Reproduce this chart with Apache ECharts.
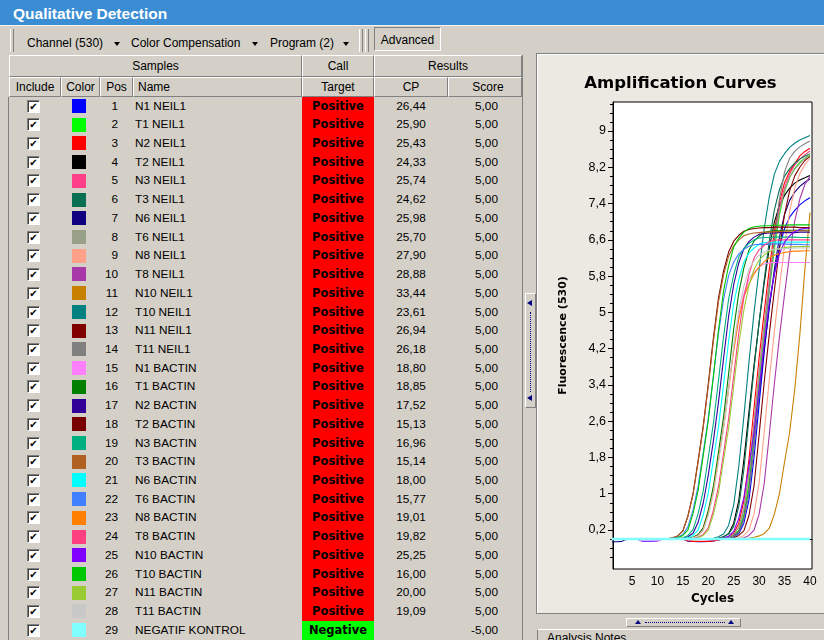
<!DOCTYPE html>
<html>
<head>
<meta charset="utf-8">
<title>Qualitative Detection</title>
<script src="https://cdn.jsdelivr.net/npm/echarts@6.0.0/dist/echarts.min.js"></script>
<style>
  html, body { margin: 0; padding: 0; }
  body { width: 824px; height: 640px; overflow: hidden; position: relative; background: #d4d0c8;
         font-family: "Liberation Sans", Arial, sans-serif; color: #000; }
  .a { position: absolute; box-sizing: border-box; }
  #titlebar { left: 0; top: 0; width: 824px; height: 25px; background: #3a8dd3; color: #fff;
              font: bold 15.5px "Liberation Sans", Arial, sans-serif; line-height: 27px; padding-left: 13px; }
  #toolbar { left: 0; top: 25px; width: 824px; height: 29px; border-top: 1px solid #f4f3ee; }
  .grip { top: 3px; width: 4px; height: 23px; border-left: 1px solid #fff; border-right: 1px solid #808080; }
  .tb { top: 9px; height: 16px; line-height: 16px; font-size: 12px; white-space: nowrap; }
  .dd { top: 16px; width: 0; height: 0; border-left: 3px solid transparent; border-right: 3px solid transparent; border-top: 4px solid #000; }
  #advanced { left: 374px; top: 1px; width: 67px; height: 24px; border: 1px solid; border-color: #808080 #fff #fff #808080;
              font-size: 12px; line-height: 24px; text-align: center; }
  .hc { border-top: 1px solid #fff; border-left: 1px solid #fff; border-right: 1px solid #808080; border-bottom: 1px solid #808080;
        font-size: 12px; text-align: center; white-space: nowrap; background: #d4d0c8; }
  .h1 { top: 55px; height: 22px; line-height: 20px; }
  .h2 { top: 77px; height: 20px; line-height: 18px; }
  .row { left: 0; width: 522px; height: 18.72px; line-height: 18.72px; font-size: 11.8px; white-space: nowrap; }
  .row span { position: absolute; top: 0; }
  .row span.chk { left: 27px; top: 3px; width: 13px; height: 13px; box-sizing: border-box; background: #fff;
         border: 1px solid; border-color: #808080 #fff #fff #808080; box-shadow: inset 1px 1px 0 #404040;
         font: bold 10px "DejaVu Sans", sans-serif; line-height: 11px; text-align: center; }
  .row span.sw { left: 72px; top: 2.4px; width: 14px; height: 14px; }
  .pos { left: 90px; width: 28px; text-align: right; }
  .nm { left: 135px; }
  .call { left: 302px; width: 72px; height: 19.2px; text-align: center; font: bold 11.5px "DejaVu Sans", sans-serif; line-height: 18.72px; }
  .cp { left: 374px; width: 74px; text-align: center; }
  .sc { left: 440px; width: 58px; text-align: right; }
  #panel { left: 536px; top: 53px; width: 288px; height: 561px; background: #ece9e2;
           border-left: 1px solid #808080; border-top: 1px solid #808080; border-bottom: 1px solid #808080;
           box-shadow: inset 1px 1px 0 #fff; }
  #chart { left: 537px; top: 54px; width: 287px; height: 559px; }
</style>
</head>
<body>
<div id="titlebar" class="a">Qualitative Detection</div>
<div id="toolbar" class="a">
  <div class="a grip" style="left:10px"></div>
  <span class="a tb" style="left:27px">Channel (530)</span>
  <div class="a dd" style="left:114px"></div>
  <span class="a tb" style="left:131px">Color Compensation</span>
  <div class="a dd" style="left:252px"></div>
  <span class="a tb" style="left:270px">Program (2)</span>
  <div class="a dd" style="left:343px"></div>
  <div class="a grip" style="left:359px"></div>
  <div class="a grip" style="left:365px"></div>
  <div id="advanced" class="a">Advanced</div>
</div>

<!-- table header -->
<div class="a hc h1" style="left:9px;width:293px">Samples</div>
<div class="a hc h1" style="left:302px;width:72px">Call</div>
<div class="a hc h1" style="left:374px;width:148px">Results</div>
<div class="a hc h2" style="left:9px;width:52px">Include</div>
<div class="a hc h2" style="left:61px;width:39px">Color</div>
<div class="a hc h2" style="left:100px;width:33px">Pos</div>
<div class="a hc h2" style="left:133px;width:169px;text-align:left;padding-left:4px">Name</div>
<div class="a hc h2" style="left:302px;width:72px">Target</div>
<div class="a hc h2" style="left:374px;width:74px">CP</div>
<div class="a hc h2" style="left:448px;width:74px;padding-left:6px">Score</div>
<div class="a" style="left:8px;top:97px;width:1px;height:543px;background:#808080"></div>
<div class="a" style="left:522px;top:55px;width:1px;height:585px;background:#808080"></div>
<div id="rows"></div>

<!-- splitters -->
<div class="a" style="left:525px;top:293px;width:11px;height:115px;border:1px solid;border-color:#fff #808080 #808080 #fff"></div>
<div class="a" style="left:527px;top:300px;width:0;height:0;border-top:3px solid transparent;border-bottom:3px solid transparent;border-right:5px solid #000080"></div>
<div class="a" style="left:530px;top:312px;width:1px;height:80px;border-left:1px dotted #000080"></div>
<div class="a" style="left:527px;top:395px;width:0;height:0;border-top:3px solid transparent;border-bottom:3px solid transparent;border-right:5px solid #000080"></div>

<div id="panel" class="a"></div>
<div id="chart" class="a"></div>

<div class="a" style="left:626px;top:618px;width:115px;height:9px;border:1px solid;border-color:#fff #808080 #808080 #fff"></div>
<div class="a" style="left:635px;top:620px;width:0;height:0;border-left:3px solid transparent;border-right:3px solid transparent;border-bottom:4px solid #000080"></div>
<div class="a" style="left:645px;top:622px;width:80px;height:1px;border-top:1px dotted #000080"></div>
<div class="a" style="left:728px;top:620px;width:0;height:0;border-left:3px solid transparent;border-right:3px solid transparent;border-bottom:4px solid #000080"></div>
<div class="a" style="left:537px;top:629px;width:287px;height:11px;border-top:1px solid #fff;border-left:1px solid #808080"></div>
<div class="a" style="left:547px;top:631px;font-size:12px;line-height:14px;white-space:nowrap">Analysis Notes</div>

<script>
// ---- sample table ----
var samplePos = [1, 2, 3, 4, 5, 6, 7, 8, 9, 10, 11, 12, 13, 14, 15, 16, 17, 18, 19, 20, 21, 22, 23, 24, 25, 26, 27, 28, 29];
var sampleNames = ['N1 NEIL1', 'T1 NEIL1', 'N2 NEIL1', 'T2 NEIL1', 'N3 NEIL1', 'T3 NEIL1', 'N6 NEIL1', 'T6 NEIL1',
    'N8 NEIL1', 'T8 NEIL1', 'N10 NEIL1', 'T10 NEIL1', 'N11 NEIL1', 'T11 NEIL1',
    'N1 BACTIN', 'T1 BACTIN', 'N2 BACTIN', 'T2 BACTIN', 'N3 BACTIN', 'T3 BACTIN', 'N6 BACTIN', 'T6 BACTIN',
    'N8 BACTIN', 'T8 BACTIN', 'N10 BACTIN', 'T10 BACTIN', 'N11 BACTIN', 'T11 BACTIN', 'NEGATIF KONTROL'];
var sampleColors = ['#0000ff', '#00ff00', '#ff0000', '#000000', '#ff4088', '#087050', '#100080', '#98a088',
    '#ffa088', '#a838a8', '#c88000', '#008080', '#800000', '#808080',
    '#ff80ff', '#008000', '#300098', '#780000', '#00b080', '#b06020', '#00ffff', '#4080ff',
    '#ff8000', '#ff4080', '#8000ff', '#00c800', '#99cc33', '#c8c8c8', '#80ffff'];
var sampleCalls = ['Positive', 'Positive', 'Positive', 'Positive', 'Positive', 'Positive', 'Positive', 'Positive',
    'Positive', 'Positive', 'Positive', 'Positive', 'Positive', 'Positive',
    'Positive', 'Positive', 'Positive', 'Positive', 'Positive', 'Positive', 'Positive', 'Positive',
    'Positive', 'Positive', 'Positive', 'Positive', 'Positive', 'Positive', 'Negative'];
var sampleCP = [26.44, 25.90, 25.43, 24.33, 25.74, 24.62, 25.98, 25.70, 27.90, 28.88, 33.44, 23.61, 26.94, 26.18,
    18.80, 18.85, 17.52, 15.13, 16.96, 15.14, 18.00, 15.77, 19.01, 19.82, 25.25, 16.00, 20.00, 19.09, null];
var sampleScores = [5, 5, 5, 5, 5, 5, 5, 5, 5, 5, 5, 5, 5, 5, 5, 5, 5, 5, 5, 5, 5, 5, 5, 5, 5, 5, 5, 5, -5];

// ---- amplification curves (fluorescence 530 per cycle) ----
var cycles = [1, 2, 3, 4, 5, 6, 7, 8, 9, 10, 11, 12, 13, 14, 15, 16, 17, 18, 19, 20,
    21, 22, 23, 24, 25, 26, 27, 28, 29, 30, 31, 32, 33, 34, 35, 36, 37, 38, 39, 40];
var fluo01 = [0, 0, 0, 0, 0, 0, -0.05, -0.05, -0.05, -0.04, 0, 0, 0, 0, 0, -0.05, -0.05, -0.06, -0.06, -0.05,
    -0.04, -0.02, 0, 0.02, 0.05, 0.12, 0.35, 0.86, 1.8, 2.97, 4.12, 5.16, 5.85, 6.45, 6.85, 7.1, 7.25, 7.37, 7.46, 7.53];
var fluo02 = [0, 0, 0, 0, 0, 0, 0, 0, 0, 0, 0, 0, 0, 0, 0, 0, 0, 0, 0, 0,
    0, 0, 0.02, 0.04, 0.09, 0.19, 0.55, 1.23, 2.34, 3.48, 4.54, 5.5, 6.4, 7.15, 7.66, 7.98, 8.17, 8.31, 8.4, 8.47];
var fluo03 = [0, 0, 0, 0, 0, 0, 0, 0, 0, 0, 0, 0, 0, 0, 0, -0.04, -0.05, -0.05, -0.05, -0.05,
    -0.04, -0.02, 0.02, 0.05, 0.13, 0.35, 0.84, 1.76, 2.89, 4.0, 5.01, 5.96, 6.79, 7.43, 7.86, 8.11, 8.28, 8.45, 8.55, 8.62];
var fluo04 = [0, 0, 0, 0, 0, 0, 0, 0, 0, 0, 0, 0, 0, 0, 0, 0, 0, 0, 0, 0,
    0, 0.02, 0.05, 0.12, 0.35, 0.85, 1.74, 2.8, 3.84, 4.77, 5.65, 6.42, 6.99, 7.36, 7.58, 7.74, 7.85, 7.92, 7.97, 8.02];
var fluo05 = [0, 0, 0, 0, 0, 0, 0, 0, 0, 0, 0, 0, 0, 0, 0, 0, 0, 0, 0, 0,
    0, 0, 0.02, 0.04, 0.1, 0.26, 0.66, 1.43, 2.55, 3.7, 4.75, 5.7, 6.6, 7.3, 7.75, 8.05, 8.25, 8.38, 8.48, 8.56];
var fluo06 = [0, 0, 0, 0, 0, 0, 0, 0, 0, 0, 0, 0, 0, 0, 0, 0, 0, 0, 0, 0,
    0, 0.02, 0.05, 0.11, 0.28, 0.72, 1.53, 2.65, 3.76, 4.78, 5.72, 6.58, 7.26, 7.71, 8.0, 8.17, 8.29, 8.38, 8.45, 8.5];
var fluo07 = [-0.06, -0.06, -0.05, 0, 0, 0, 0, 0, 0, 0, 0, 0, 0, 0, 0, 0, 0, 0, 0, 0,
    0, 0, 0, 0.03, 0.07, 0.16, 0.46, 1.06, 2.1, 3.19, 4.18, 5.09, 5.95, 6.66, 7.16, 7.47, 7.65, 7.78, 7.87, 7.94];
var fluo08 = [0, 0, 0, 0, 0, 0, 0, 0, 0, 0, 0, 0, 0, 0, 0, 0, 0, 0, 0, 0,
    0, 0, 0.02, 0.04, 0.1, 0.26, 0.67, 1.44, 2.55, 3.68, 4.7, 5.65, 6.52, 7.22, 7.68, 7.98, 8.16, 8.28, 8.4, 8.5];
var fluo09 = [0, 0, 0, 0, 0, 0, 0, 0, 0, 0, 0, 0, 0, 0, 0, 0, 0, 0, 0, 0,
    0, 0, 0, 0, 0, 0.03, 0.08, 0.2, 0.56, 1.24, 2.36, 3.52, 4.58, 5.56, 6.46, 7.22, 7.74, 8.06, 8.26, 8.4];
var fluo10 = [0, 0, 0, 0, 0, 0, 0, 0, 0, 0, 0, 0, 0, 0, 0, 0, 0, 0, 0, 0,
    0, 0, 0, 0, 0, 0, 0.03, 0.08, 0.2, 0.55, 1.22, 2.3, 3.43, 4.46, 5.4, 6.28, 7.01, 7.5, 7.82, 8.0];
var fluo11 = [0, 0, 0, 0, 0, 0, 0, 0, 0, 0, 0, 0, 0, 0, 0, 0, 0, 0, 0, 0,
    0, 0, 0, 0, 0, 0, 0, 0.02, 0.04, 0.07, 0.12, 0.24, 0.55, 1.0, 1.7, 2.35, 3.3, 4.5, 5.95, 7.2];
var fluo12 = [0, 0, 0, 0, 0, 0, 0, 0, 0, 0, 0, 0, 0, 0, 0, 0, 0, 0, 0, 0,
    0.02, 0.05, 0.11, 0.3, 0.75, 1.6, 2.7, 3.9, 5.0, 5.95, 6.85, 7.55, 8.05, 8.33, 8.5, 8.64, 8.73, 8.8, 8.85, 8.9];
var fluo13 = [0, 0, 0, 0, 0, 0, 0, 0, 0, 0, 0, 0, 0, 0, 0, 0, 0, 0, 0, 0,
    0, 0, 0, 0, 0.03, 0.08, 0.18, 0.52, 1.18, 2.3, 3.46, 4.52, 5.49, 6.4, 7.16, 7.68, 8.01, 8.2, 8.35, 8.44];
var fluo14 = [0, 0, 0, 0, 0, 0, 0, 0, 0, 0, 0, 0, 0, 0, 0, 0, 0, 0, 0, 0,
    0, 0, 0, 0.03, 0.06, 0.15, 0.44, 1.03, 2.09, 3.28, 4.4, 5.5, 6.6, 7.5, 8.1, 8.4, 8.55, 8.65, 8.72, 8.78];
var fluo15 = [0, 0, 0, 0, 0, 0, -0.04, -0.04, -0.04, -0.04, 0, 0, 0, 0, 0, 0.015, 0.04, 0.1, 0.24, 0.59,
    1.08, 1.76, 2.48, 3.34, 4.22, 4.94, 5.41, 5.73, 5.89, 6.0, 6.07, 6.09, 6.1, 6.1, 6.1, 6.1, 6.1, 6.1, 6.1, 6.1];
var fluo16 = [0, 0, 0, 0, 0, 0, 0, 0, 0, 0, 0, 0, 0, 0, 0, 0.015, 0.04, 0.1, 0.25, 0.63,
    1.16, 1.91, 2.69, 3.65, 4.63, 5.43, 5.98, 6.37, 6.57, 6.68, 6.76, 6.79, 6.8, 6.8, 6.81, 6.81, 6.81, 6.81, 6.81, 6.81];
var fluo17 = [0, 0, 0, 0, 0, 0, 0, 0, 0, 0, 0, 0, 0, 0, 0.02, 0.05, 0.13, 0.37, 0.79, 1.41,
    2.16, 3.01, 3.98, 4.91, 5.61, 6.09, 6.4, 6.56, 6.66, 6.72, 6.74, 6.75, 6.75, 6.76, 6.76, 6.76, 6.76, 6.77, 6.77, 6.77];
var fluo18 = [0, 0, 0, 0, 0, 0, 0, 0, 0, 0, 0, 0, 0.03, 0.07, 0.18, 0.51, 1.0, 1.73, 2.49, 3.42,
    4.43, 5.31, 5.91, 6.33, 6.57, 6.7, 6.79, 6.83, 6.85, 6.86, 6.87, 6.87, 6.88, 6.88, 6.88, 6.88, 6.88, 6.87, 6.87, 6.87];
var fluo19 = [0, 0, 0, 0, 0, 0, 0, 0, 0, 0, 0, 0, 0, 0.01, 0.03, 0.08, 0.21, 0.56, 1.06, 1.8,
    2.55, 3.49, 4.46, 5.29, 5.83, 6.22, 6.41, 6.52, 6.6, 6.64, 6.65, 6.65, 6.66, 6.66, 6.66, 6.66, 6.66, 6.65, 6.65, 6.65];
var fluo20 = [0, 0, 0, 0, 0, 0, 0, 0, 0, 0, 0, 0.01, 0.03, 0.07, 0.18, 0.5, 0.98, 1.7, 2.45, 3.37,
    4.36, 5.23, 5.82, 6.24, 6.47, 6.6, 6.69, 6.73, 6.75, 6.76, 6.77, 6.77, 6.78, 6.78, 6.79, 6.79, 6.8, 6.8, 6.8, 6.8];
var fluo21 = [0, 0, 0, 0, 0, 0, 0, 0, 0, 0, 0, 0, 0, 0, 0.01, 0.03, 0.08, 0.2, 0.53, 1.02,
    1.75, 2.47, 3.4, 4.37, 5.19, 5.72, 6.11, 6.31, 6.42, 6.5, 6.54, 6.55, 6.55, 6.55, 6.55, 6.55, 6.55, 6.55, 6.55, 6.55];
var fluo22 = [0, 0, 0, 0, 0, 0, 0, 0, 0, 0, 0, 0, 0.015, 0.04, 0.1, 0.27, 0.64, 1.17, 1.9, 2.67,
    3.59, 4.53, 5.28, 5.81, 6.11, 6.29, 6.39, 6.46, 6.49, 6.5, 6.5, 6.5, 6.51, 6.51, 6.51, 6.5, 6.5, 6.5, 6.49, 6.49];
var fluo23 = [0, 0, 0, 0, 0, 0, 0, 0, 0, 0, 0, 0, 0, 0, 0, 0, 0.03, 0.08, 0.2, 0.55,
    1.03, 1.75, 2.45, 3.3, 4.15, 4.85, 5.35, 5.62, 5.85, 6.0, 6.12, 6.2, 6.26, 6.3, 6.32, 6.34, 6.35, 6.35, 6.36, 6.36];
var fluo24 = [0, 0, 0, 0, 0, 0, 0, 0, 0, 0, 0, 0, 0, 0, 0, 0, 0.015, 0.04, 0.1, 0.25,
    0.63, 1.16, 1.89, 2.66, 3.6, 4.55, 5.33, 5.84, 6.2, 6.38, 6.48, 6.56, 6.59, 6.6, 6.6, 6.6, 6.6, 6.6, 6.6, 6.6];
var fluo25 = [0, 0, 0, 0, 0, 0, 0, 0, 0, 0, 0, 0, 0, 0, 0, 0, 0, 0, 0, 0,
    0, 0.01, 0.025, 0.06, 0.17, 0.46, 0.92, 1.61, 2.36, 3.31, 4.31, 5.22, 5.85, 6.29, 6.55, 6.69, 6.78, 6.83, 6.85, 6.86];
var fluo26 = [0, 0, 0, 0, 0, 0, 0, 0, 0, 0, 0, 0, 0.01, 0.03, 0.08, 0.2, 0.56, 1.07, 1.84, 2.61,
    3.58, 4.6, 5.47, 6.03, 6.44, 6.64, 6.77, 6.85, 6.89, 6.9, 6.91, 6.91, 6.92, 6.92, 6.92, 6.93, 6.93, 6.93, 6.93, 6.93];
var fluo27 = [0, 0, 0, 0, 0, 0, 0, 0, 0, 0, 0, 0, 0, 0, 0, 0, 0.01, 0.03, 0.08, 0.2,
    0.54, 1.02, 1.74, 2.45, 3.37, 4.3, 5.05, 5.6, 5.95, 6.15, 6.27, 6.34, 6.38, 6.41, 6.43, 6.44, 6.45, 6.45, 6.45, 6.45];
var fluo28 = [0, 0, 0, 0, 0, 0, 0, 0, 0, 0, 0, 0, 0, 0, 0, 0, 0.03, 0.07, 0.19, 0.52,
    1.0, 1.7, 2.42, 3.3, 4.25, 5.05, 5.58, 5.95, 6.14, 6.26, 6.33, 6.37, 6.39, 6.4, 6.41, 6.41, 6.42, 6.42, 6.42, 6.42];
var fluo29 = [0, 0, 0, 0, 0, 0, 0, 0, 0, 0, 0, 0, 0, 0, 0, 0, 0, 0, 0, 0,
    0, 0, 0, 0, 0, 0, 0, 0, 0, 0, 0, 0, 0, 0, 0, 0, 0, 0, 0, 0];
var curves = [fluo01, fluo02, fluo03, fluo04, fluo05, fluo06, fluo07, fluo08, fluo09, fluo10,
    fluo11, fluo12, fluo13, fluo14, fluo15, fluo16, fluo17, fluo18, fluo19, fluo20,
    fluo21, fluo22, fluo23, fluo24, fluo25, fluo26, fluo27, fluo28, fluo29];

// axis tick labels
var xTickLabels = [5, 10, 15, 20, 25, 30, 35, 40];
var yTickLabels = [0.2, 1, 1.8, 2.6, 3.4, 4.2, 5, 5.8, 6.6, 7.4, 8.2, 9];

function comma(v) {
    return v.toFixed(2).replace('.', ',');
}

// build table rows
var rowsEl = document.getElementById('rows');
var html = '';
for (var i = 0; i < sampleNames.length; i++) {
    var rowTop = 96.6 + i * 18.72;
    var callBg = sampleCalls[i] === 'Positive' ? '#ff0000' : '#00ff00';
    html += '<div class="a row" style="top:' + rowTop + 'px">' +
        '<span class="chk">\u2714</span>' +
        '<span class="sw" style="background:' + sampleColors[i] + '"></span>' +
        '<span class="pos">' + samplePos[i] + '</span>' +
        '<span class="nm">' + sampleNames[i] + '</span>' +
        '<span class="call" style="background:' + callBg + '">' + sampleCalls[i] + '</span>' +
        '<span class="cp">' + (sampleCP[i] === null ? '' : comma(sampleCP[i])) + '</span>' +
        '<span class="sc">' + comma(sampleScores[i]) + '</span>' +
        '</div>';
}
rowsEl.innerHTML = html;

// minor ticks on the fluorescence axis (every 0.2)
var minorTicks = [];
for (var k = -3; k <= 48; k++) {
    var mv = Math.round(k * 20) / 100;
    if ((k - 1) % 4 !== 0) minorTicks.push(mv);
}

var chart = echarts.init(document.getElementById('chart'), null, { renderer: 'canvas' });

var series = curves.map(function (vals, i) {
    var neg = sampleCalls[i] === 'Negative';
    return {
        name: sampleNames[i],
        type: 'line',
        data: vals.map(function (v, j) { return [cycles[j], v]; }),
        showSymbol: false,
        symbol: 'none',
        silent: true,
        clip: true,
        lineStyle: { width: neg ? 2.5 : 1.1, color: sampleColors[i] },
        itemStyle: { color: sampleColors[i] }
    };
});

var option = {
    animation: false,
    textStyle: { fontFamily: 'Liberation Sans' },
    title: {
        text: 'Amplification Curves',
        left: 'center',
        top: 21,
        padding: 0,
        textStyle: { fontFamily: 'DejaVu Sans', fontWeight: 'bold', fontSize: 16.5, color: '#000' }
    },
    grid: {
        left: 76, right: 12, top: 48, bottom: 44,
        show: true, backgroundColor: '#fff', borderColor: '#000', borderWidth: 1
    },
    xAxis: {
        type: 'value',
        min: 1.26,
        max: 40.4,
        name: 'Cycles',
        nameLocation: 'middle',
        nameGap: 22,
        nameTextStyle: { fontFamily: 'DejaVu Sans', fontWeight: 'bold', fontSize: 12, color: '#000' },
        axisLine: { show: true, lineStyle: { color: '#000', width: 1 } },
        axisTick: { show: false },
        axisLabel: {
            customValues: xTickLabels,
            margin: 7,
            color: '#000',
            fontSize: 12,
            fontFamily: 'Liberation Sans'
        },
        splitLine: { show: false }
    },
    yAxis: [{
        type: 'value',
        min: -0.66,
        max: 9.64,
        position: 'left',
        name: 'Fluorescence (530)',
        nameLocation: 'middle',
        nameGap: 44,
        nameRotate: 90,
        nameTextStyle: { fontFamily: 'DejaVu Sans', fontWeight: 'bold', fontSize: 11, color: '#000' },
        axisLine: { show: true, lineStyle: { color: '#000', width: 1 } },
        axisTick: { show: true, customValues: yTickLabels, length: 5, lineStyle: { color: '#000' } },
        axisLabel: {
            customValues: yTickLabels,
            margin: 7,
            color: '#000',
            fontSize: 12.5,
            fontFamily: 'Liberation Sans',
            formatter: function (v) { return String(v).replace('.', ','); }
        },
        splitLine: { show: false }
    }, {
        // only the small in-between ticks
        type: 'value',
        min: -0.66,
        max: 9.64,
        position: 'left',
        axisLine: { show: false },
        axisTick: { show: true, customValues: minorTicks, length: 3, lineStyle: { color: '#000' } },
        axisLabel: { show: false },
        splitLine: { show: false }
    }],
    series: series
};

chart.setOption(option);
</script>
</body>
</html>
